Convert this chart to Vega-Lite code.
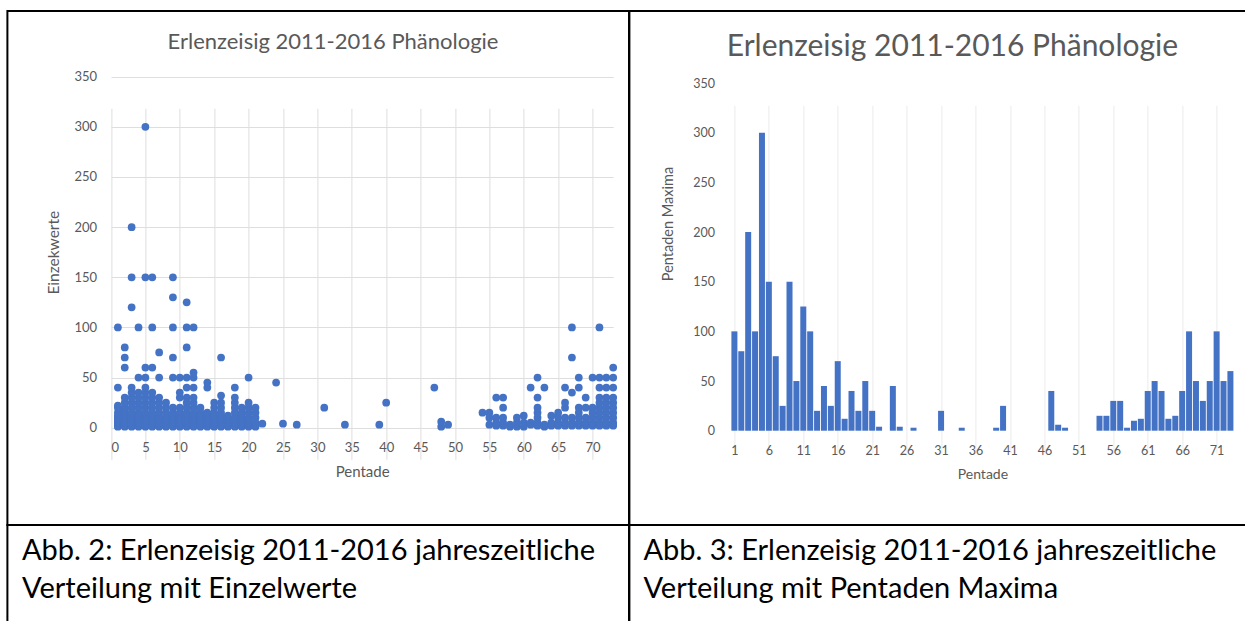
{
  "$schema": "https://vega.github.io/schema/vega-lite/v6.json",
  "background": "white",
  "autosize": {"type": "none"},
  "padding": {"left": 7.4, "top": 11, "right": 1237.6, "bottom": 610},
  "config": {
    "view": {"stroke": "#000000", "strokeWidth": 2},
    "font": "Lato",
    "axis": {"labelColor": "#595959", "titleColor": "#595959", "labelFont": "Lato", "titleFont": "Lato", "titleFontWeight": "normal", "domain": false, "ticks": false, "tickSize": 0},
    "title": {"color": "#595959", "fontWeight": "normal", "font": "Lato"}
  },
  "datasets": {
    "einzel": [
      {"p":1,"v":1},{"p":1,"v":2},{"p":1,"v":3},{"p":1,"v":5},{"p":1,"v":6},{"p":1,"v":8},{"p":1,"v":10},{"p":1,"v":12},{"p":1,"v":15},{"p":1,"v":20},{"p":1,"v":22},{"p":1,"v":40},{"p":1,"v":100},
      {"p":2,"v":1},{"p":2,"v":2},{"p":2,"v":3},{"p":2,"v":4},{"p":2,"v":5},{"p":2,"v":8},{"p":2,"v":10},{"p":2,"v":12},{"p":2,"v":15},{"p":2,"v":18},{"p":2,"v":20},{"p":2,"v":25},{"p":2,"v":30},{"p":2,"v":60},{"p":2,"v":70},{"p":2,"v":80},
      {"p":3,"v":1},{"p":3,"v":2},{"p":3,"v":3},{"p":3,"v":5},{"p":3,"v":6},{"p":3,"v":8},{"p":3,"v":10},{"p":3,"v":12},{"p":3,"v":15},{"p":3,"v":20},{"p":3,"v":25},{"p":3,"v":30},{"p":3,"v":35},{"p":3,"v":40},{"p":3,"v":120},{"p":3,"v":150},{"p":3,"v":200},
      {"p":4,"v":1},{"p":4,"v":2},{"p":4,"v":4},{"p":4,"v":5},{"p":4,"v":8},{"p":4,"v":10},{"p":4,"v":12},{"p":4,"v":15},{"p":4,"v":20},{"p":4,"v":25},{"p":4,"v":30},{"p":4,"v":35},{"p":4,"v":50},{"p":4,"v":100},
      {"p":5,"v":1},{"p":5,"v":2},{"p":5,"v":3},{"p":5,"v":5},{"p":5,"v":8},{"p":5,"v":10},{"p":5,"v":12},{"p":5,"v":15},{"p":5,"v":20},{"p":5,"v":25},{"p":5,"v":30},{"p":5,"v":35},{"p":5,"v":40},{"p":5,"v":50},{"p":5,"v":60},{"p":5,"v":150},{"p":5,"v":300},
      {"p":6,"v":1},{"p":6,"v":2},{"p":6,"v":3},{"p":6,"v":5},{"p":6,"v":7},{"p":6,"v":10},{"p":6,"v":12},{"p":6,"v":15},{"p":6,"v":20},{"p":6,"v":25},{"p":6,"v":30},{"p":6,"v":35},{"p":6,"v":60},{"p":6,"v":100},{"p":6,"v":150},
      {"p":7,"v":1},{"p":7,"v":2},{"p":7,"v":3},{"p":7,"v":5},{"p":7,"v":8},{"p":7,"v":10},{"p":7,"v":15},{"p":7,"v":20},{"p":7,"v":25},{"p":7,"v":30},{"p":7,"v":50},{"p":7,"v":75},
      {"p":8,"v":1},{"p":8,"v":2},{"p":8,"v":3},{"p":8,"v":5},{"p":8,"v":8},{"p":8,"v":10},{"p":8,"v":12},{"p":8,"v":15},{"p":8,"v":20},{"p":8,"v":25},
      {"p":9,"v":1},{"p":9,"v":2},{"p":9,"v":3},{"p":9,"v":5},{"p":9,"v":8},{"p":9,"v":10},{"p":9,"v":12},{"p":9,"v":15},{"p":9,"v":20},{"p":9,"v":50},{"p":9,"v":70},{"p":9,"v":100},{"p":9,"v":130},{"p":9,"v":150},
      {"p":10,"v":1},{"p":10,"v":2},{"p":10,"v":3},{"p":10,"v":5},{"p":10,"v":8},{"p":10,"v":10},{"p":10,"v":12},{"p":10,"v":15},{"p":10,"v":20},{"p":10,"v":30},{"p":10,"v":35},{"p":10,"v":50},
      {"p":11,"v":1},{"p":11,"v":2},{"p":11,"v":3},{"p":11,"v":5},{"p":11,"v":8},{"p":11,"v":10},{"p":11,"v":12},{"p":11,"v":15},{"p":11,"v":20},{"p":11,"v":25},{"p":11,"v":30},{"p":11,"v":40},{"p":11,"v":50},{"p":11,"v":80},{"p":11,"v":100},{"p":11,"v":125},
      {"p":12,"v":1},{"p":12,"v":2},{"p":12,"v":3},{"p":12,"v":5},{"p":12,"v":8},{"p":12,"v":10},{"p":12,"v":12},{"p":12,"v":15},{"p":12,"v":20},{"p":12,"v":25},{"p":12,"v":30},{"p":12,"v":40},{"p":12,"v":50},{"p":12,"v":55},{"p":12,"v":100},
      {"p":13,"v":1},{"p":13,"v":2},{"p":13,"v":3},{"p":13,"v":5},{"p":13,"v":8},{"p":13,"v":10},{"p":13,"v":12},{"p":13,"v":15},{"p":13,"v":20},
      {"p":14,"v":1},{"p":14,"v":2},{"p":14,"v":3},{"p":14,"v":5},{"p":14,"v":8},{"p":14,"v":10},{"p":14,"v":12},{"p":14,"v":15},{"p":14,"v":40},{"p":14,"v":45},
      {"p":15,"v":1},{"p":15,"v":2},{"p":15,"v":3},{"p":15,"v":5},{"p":15,"v":8},{"p":15,"v":10},{"p":15,"v":12},{"p":15,"v":15},{"p":15,"v":20},{"p":15,"v":25},
      {"p":16,"v":1},{"p":16,"v":2},{"p":16,"v":3},{"p":16,"v":5},{"p":16,"v":8},{"p":16,"v":10},{"p":16,"v":12},{"p":16,"v":15},{"p":16,"v":20},{"p":16,"v":25},{"p":16,"v":32},{"p":16,"v":70},
      {"p":17,"v":1},{"p":17,"v":2},{"p":17,"v":3},{"p":17,"v":5},{"p":17,"v":8},{"p":17,"v":10},{"p":17,"v":12},
      {"p":18,"v":1},{"p":18,"v":2},{"p":18,"v":3},{"p":18,"v":5},{"p":18,"v":8},{"p":18,"v":10},{"p":18,"v":15},{"p":18,"v":20},{"p":18,"v":25},{"p":18,"v":30},{"p":18,"v":40},
      {"p":19,"v":1},{"p":19,"v":2},{"p":19,"v":3},{"p":19,"v":5},{"p":19,"v":8},{"p":19,"v":10},{"p":19,"v":12},{"p":19,"v":15},{"p":19,"v":20},
      {"p":20,"v":1},{"p":20,"v":2},{"p":20,"v":3},{"p":20,"v":5},{"p":20,"v":8},{"p":20,"v":10},{"p":20,"v":15},{"p":20,"v":20},{"p":20,"v":25},{"p":20,"v":50},
      {"p":21,"v":1},{"p":21,"v":2},{"p":21,"v":3},{"p":21,"v":5},{"p":21,"v":10},{"p":21,"v":15},{"p":21,"v":20},
      {"p":22,"v":4},{"p":24,"v":45},{"p":25,"v":4},{"p":27,"v":3},{"p":31,"v":20},{"p":34,"v":3},{"p":39,"v":3},{"p":40,"v":25},{"p":47,"v":40},
      {"p":48,"v":1},{"p":48,"v":6},{"p":49,"v":3},{"p":54,"v":15},
      {"p":55,"v":3},{"p":55,"v":10},{"p":55,"v":15},
      {"p":56,"v":2},{"p":56,"v":5},{"p":56,"v":10},{"p":56,"v":30},
      {"p":57,"v":2},{"p":57,"v":5},{"p":57,"v":10},{"p":57,"v":20},{"p":57,"v":30},
      {"p":58,"v":1},{"p":58,"v":3},
      {"p":59,"v":1},{"p":59,"v":5},{"p":59,"v":10},
      {"p":60,"v":1},{"p":60,"v":5},{"p":60,"v":12},
      {"p":61,"v":3},{"p":61,"v":5},{"p":61,"v":40},
      {"p":62,"v":2},{"p":62,"v":5},{"p":62,"v":10},{"p":62,"v":15},{"p":62,"v":20},{"p":62,"v":30},{"p":62,"v":50},
      {"p":63,"v":1},{"p":63,"v":3},{"p":63,"v":40},
      {"p":64,"v":2},{"p":64,"v":5},{"p":64,"v":12},
      {"p":65,"v":2},{"p":65,"v":5},{"p":65,"v":10},{"p":65,"v":15},
      {"p":66,"v":2},{"p":66,"v":5},{"p":66,"v":10},{"p":66,"v":20},{"p":66,"v":25},{"p":66,"v":40},
      {"p":67,"v":2},{"p":67,"v":5},{"p":67,"v":10},{"p":67,"v":35},{"p":67,"v":70},{"p":67,"v":100},
      {"p":68,"v":2},{"p":68,"v":5},{"p":68,"v":10},{"p":68,"v":15},{"p":68,"v":20},{"p":68,"v":40},{"p":68,"v":50},
      {"p":69,"v":2},{"p":69,"v":5},{"p":69,"v":10},{"p":69,"v":20},{"p":69,"v":30},
      {"p":70,"v":2},{"p":70,"v":5},{"p":70,"v":10},{"p":70,"v":15},{"p":70,"v":20},{"p":70,"v":50},
      {"p":71,"v":2},{"p":71,"v":5},{"p":71,"v":10},{"p":71,"v":15},{"p":71,"v":20},{"p":71,"v":25},{"p":71,"v":30},{"p":71,"v":40},{"p":71,"v":50},{"p":71,"v":100},
      {"p":72,"v":2},{"p":72,"v":5},{"p":72,"v":10},{"p":72,"v":15},{"p":72,"v":20},{"p":72,"v":25},{"p":72,"v":30},{"p":72,"v":40},{"p":72,"v":50},
      {"p":73,"v":2},{"p":73,"v":5},{"p":73,"v":10},{"p":73,"v":15},{"p":73,"v":20},{"p":73,"v":25},{"p":73,"v":30},{"p":73,"v":40},{"p":73,"v":50},{"p":73,"v":60}
    ],
    "maxima": [
      {"p":1,"v":100},{"p":2,"v":80},{"p":3,"v":200},{"p":4,"v":100},{"p":5,"v":300},{"p":6,"v":150},{"p":7,"v":75},{"p":8,"v":25},{"p":9,"v":150},{"p":10,"v":50},
      {"p":11,"v":125},{"p":12,"v":100},{"p":13,"v":20},{"p":14,"v":45},{"p":15,"v":25},{"p":16,"v":70},{"p":17,"v":12},{"p":18,"v":40},{"p":19,"v":20},{"p":20,"v":50},
      {"p":21,"v":20},{"p":22,"v":4},{"p":24,"v":45},{"p":25,"v":4},{"p":27,"v":3},{"p":31,"v":20},{"p":34,"v":3},{"p":39,"v":3},{"p":40,"v":25},{"p":47,"v":40},
      {"p":48,"v":6},{"p":49,"v":3},{"p":54,"v":15},{"p":55,"v":15},{"p":56,"v":30},{"p":57,"v":30},{"p":58,"v":3},{"p":59,"v":10},{"p":60,"v":12},{"p":61,"v":40},
      {"p":62,"v":50},{"p":63,"v":40},{"p":64,"v":12},{"p":65,"v":15},{"p":66,"v":40},{"p":67,"v":100},{"p":68,"v":50},{"p":69,"v":30},{"p":70,"v":50},{"p":71,"v":100},
      {"p":72,"v":50},{"p":73,"v":60}
    ],
    "captions": [
      {"abb": "Abb. 2"},
      {"abb": "Abb. 3"}
    ]
  },
  "columns": 2,
  "spacing": 0,
  "bounds": "flush",
  "align": "each",
  "concat": [
    {
      "width": 621.6,
      "height": 514,
      "title": {"text": "Erlenzeisig 2011-2016 Phänologie", "fontSize": 22, "offset": -42.9, "dx": 14.8, "anchor": "middle", "frame": "group"},
      "data": {"name": "einzel"},
      "mark": {"type": "circle", "size": 60, "color": "#4472C4", "opacity": 1},
      "encoding": {
        "x": {"field": "p", "type": "quantitative",
          "scale": {"domain": [0, 73], "range": [103.6, 605.8], "nice": false, "zero": false},
          "axis": {"values": [0,5,10,15,20,25,30,35,40,45,50,55,60,65,70], "offset": -97.3, "grid": true, "gridColor": "#dedede", "labelFontSize": 13, "labelPadding": 14, "title": "Pentade", "titleFontSize": 15, "titlePadding": 10}},
        "y": {"field": "v", "type": "quantitative",
          "scale": {"domain": [0, 350], "range": [416.7, 65.7], "nice": false},
          "axis": {"values": [0,50,100,150,200,250,300,350], "offset": -103.6, "grid": true, "gridColor": "#dedede", "labelFontSize": 13, "labelPadding": 14.5, "title": "Einzekwerte", "titleFontSize": 15.5, "titlePadding": 12}}
      }
    },
    {
      "width": 640,
      "height": 514,
      "title": {"text": "Erlenzeisig 2011-2016 Phänologie", "fontSize": 30, "offset": -50.6, "dx": 3, "anchor": "middle", "frame": "group"},
      "data": {"name": "maxima"},
      "mark": {"type": "bar", "size": 6, "color": "#4472C4"},
      "encoding": {
        "x": {"field": "p", "type": "quantitative",
          "scale": {"domain": [1, 73], "range": [100, 606], "nice": false, "zero": false},
          "axis": {"values": [1,6,11,16,21,26,31,36,41,46,51,56,61,66,71], "offset": -94.3, "grid": true, "gridColor": "#ebebeb", "labelFontSize": 12.5, "labelPadding": 14, "title": "Pentade", "titleFontSize": 14, "titlePadding": 10}},
        "y": {"field": "v", "type": "quantitative",
          "scale": {"domain": [0, 350], "range": [419.7, 72], "nice": false},
          "axis": {"values": [0,50,100,150,200,250,300,350], "offset": -100, "grid": false, "labelFontSize": 12.5, "labelPadding": 15, "title": "Pentaden Maxima", "titleFontSize": 14.5, "titlePadding": 17, "titleY": 212.5}}
      }
    },
    {
      "width": 621.6,
      "height": 110,
      "view": {"stroke": "#000000", "strokeWidth": 2},
      "title": {"text": ["Abb. 2: Erlenzeisig 2011-2016 jahreszeitliche", "Verteilung mit Einzelwerte"], "anchor": "start", "frame": "group", "fontSize": 29, "lineHeight": 37.5, "color": "#000000", "offset": -78.7, "dx": 14.6},
      "data": {"name": "captions"},
      "transform": [{"filter": "datum.abb == 'Abb. 2'"}],
      "mark": {"type": "point", "opacity": 0}
    },
    {
      "width": 640,
      "height": 110,
      "view": {"stroke": "#000000", "strokeWidth": 2},
      "title": {"text": ["Abb. 3: Erlenzeisig 2011-2016 jahreszeitliche", "Verteilung mit Pentaden Maxima"], "anchor": "start", "frame": "group", "fontSize": 29, "lineHeight": 37.5, "color": "#000000", "offset": -78.7, "dx": 14},
      "data": {"name": "captions"},
      "transform": [{"filter": "datum.abb == 'Abb. 3'"}],
      "mark": {"type": "point", "opacity": 0}
    }
  ]
}
